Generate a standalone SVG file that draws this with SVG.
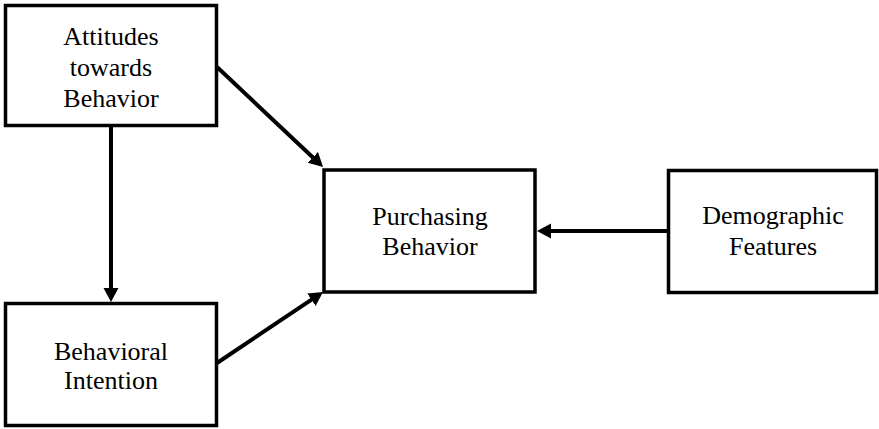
<svg xmlns="http://www.w3.org/2000/svg" width="879" height="429" viewBox="0 0 879 429">
<style>
.box{fill:#fff;stroke:#000;stroke-width:3.5}
.lbl{font-family:"Liberation Serif","Times New Roman",serif;font-size:26px;fill:#000;text-anchor:middle}
.edge{stroke:#000;stroke-width:4;fill:none}
</style>
<defs>
<marker id="ah" markerUnits="userSpaceOnUse" markerWidth="16" markerHeight="16" refX="6" refY="7.5" orient="auto">
<path d="M0,0 L14,7.5 L0,15 z" fill="#000"/>
</marker>
</defs>
<rect width="879" height="429" fill="#fff"/>
<g id="connectors">
<line class="edge" x1="111" y1="127" x2="111" y2="294" marker-end="url(#ah)"/>
<line class="edge" x1="217" y1="67" x2="317.2" y2="161.5" marker-end="url(#ah)"/>
<line class="edge" x1="217" y1="363" x2="316.4" y2="296.4" marker-end="url(#ah)"/>
<line class="edge" x1="668" y1="231" x2="545" y2="231" marker-end="url(#ah)"/>
</g>
<g id="attitudes">
<rect class="box" x="5.5" y="5.5" width="211" height="120"/>
<text class="lbl" x="111" y="45">Attitudes</text>
<text class="lbl" x="111" y="76">towards</text>
<text class="lbl" x="111" y="107">Behavior</text>
</g>
<g id="intention">
<rect class="box" x="5.5" y="303.5" width="211" height="122"/>
<text class="lbl" x="111" y="360">Behavioral</text>
<text class="lbl" x="111" y="389">Intention</text>
</g>
<g id="purchasing">
<rect class="box" x="324" y="170" width="211" height="122"/>
<text class="lbl" x="430" y="225">Purchasing</text>
<text class="lbl" x="430" y="255">Behavior</text>
</g>
<g id="demographic">
<rect class="box" x="668.5" y="170.5" width="208" height="122"/>
<text class="lbl" x="773" y="224">Demographic</text>
<text class="lbl" x="773" y="255">Features</text>
</g>
</svg>
